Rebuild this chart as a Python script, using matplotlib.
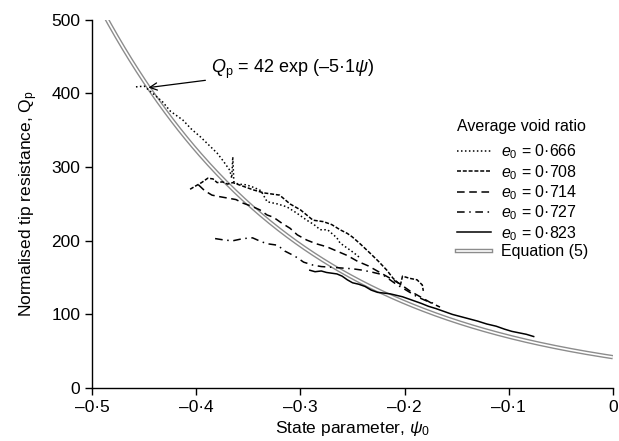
import numpy as np
import matplotlib
matplotlib.use("Agg")
import matplotlib.pyplot as plt
from matplotlib.lines import Line2D
import matplotlib.patheffects as pe

plt.rcParams['font.family'] = ['Liberation Sans', 'DejaVu Sans']
plt.rcParams['mathtext.fontset'] = 'custom'
plt.rcParams['mathtext.rm'] = 'Liberation Sans'
plt.rcParams['mathtext.it'] = 'Liberation Sans:italic'
plt.rcParams['mathtext.sf'] = 'Liberation Sans'

# ---- data ----
psi_666 = [-0.458, -0.450, -0.446, -0.440, -0.432, -0.425, -0.418, -0.413, -0.405, -0.396,
           -0.388, -0.380, -0.374, -0.368, -0.366, -0.365, -0.364, -0.360, -0.352, -0.344,
           -0.338, -0.332, -0.322, -0.313, -0.304, -0.294, -0.287, -0.281, -0.274, -0.265,
           -0.262, -0.255, -0.249, -0.243]
q_666 = [409, 410, 405, 398, 388, 376, 369, 364, 352, 341,
         330, 319, 308, 296, 285, 314, 280, 277, 276, 272,
         268, 253, 250, 246, 238, 228, 222, 215, 215, 204,
         197, 190, 184, 177]

psi_708 = [-0.406, -0.400, -0.395, -0.389, -0.384, -0.380, -0.375, -0.370, -0.365, -0.355,
           -0.345, -0.335, -0.320, -0.310, -0.300, -0.288, -0.278, -0.270, -0.262, -0.255,
           -0.250, -0.242, -0.233, -0.225, -0.217, -0.211, -0.204, -0.202, -0.195, -0.188,
           -0.183, -0.182]
q_708 = [270, 275, 279, 285, 284, 279, 280, 277, 279, 274,
         269, 265, 262, 250, 242, 228, 226, 222, 215, 210,
         205, 195, 183, 172, 160, 149, 140, 152, 149, 147,
         140, 132]

psi_714 = [-0.398, -0.392, -0.385, -0.378, -0.370, -0.362, -0.355, -0.347, -0.339, -0.332,
           -0.326, -0.318, -0.310, -0.303, -0.294, -0.285, -0.275, -0.265, -0.255, -0.245,
           -0.235, -0.225, -0.215, -0.205, -0.195, -0.185, -0.175, -0.166]
q_714 = [276, 268, 262, 260, 258, 256, 251, 247, 242, 235,
         232, 224, 217, 208, 201, 196, 192, 186, 180, 172,
         166, 158, 150, 142, 132, 124, 116, 110]

psi_727 = [-0.382, -0.373, -0.365, -0.355, -0.346, -0.338, -0.332, -0.322, -0.315, -0.308,
           -0.303, -0.297, -0.288, -0.280, -0.270, -0.260, -0.250, -0.240, -0.230, -0.221,
           -0.214, -0.207, -0.202, -0.195, -0.188, -0.180, -0.172]
q_727 = [203, 201, 200, 203, 204, 199, 196, 194, 186, 181,
         177, 171, 167, 165, 164, 163, 162, 160, 157, 154,
         147, 140, 136, 130, 124, 119, 115]

psi_823 = [-0.291, -0.286, -0.280, -0.275, -0.270, -0.265, -0.260, -0.255, -0.250, -0.244,
           -0.238, -0.232, -0.226, -0.220, -0.214, -0.208, -0.202, -0.196, -0.190, -0.184,
           -0.177, -0.170, -0.162, -0.154, -0.146, -0.138, -0.130, -0.121, -0.112, -0.104,
           -0.097, -0.090, -0.083, -0.076]
q_823 = [160, 158, 159, 157, 156, 155, 152, 147, 143, 141,
         138, 133, 130, 129, 128, 126, 124, 121, 118, 115,
         111, 108, 104, 100, 97, 94, 91, 87, 84, 80,
         77, 75, 73, 70]

# Equation (5): Qp = A exp(B psi)
eq_A = 42.0
eq_B = -5.1

series_labels = ['$e_0$ = 0·666', '$e_0$ = 0·708', '$e_0$ = 0·714',
                 '$e_0$ = 0·727', '$e_0$ = 0·823']
x_ticks = [-0.5, -0.4, -0.3, -0.2, -0.1, 0.0]
x_ticklabels = ['–0·5', '–0·4', '–0·3', '–0·2', '–0·1', '0']
y_ticks = [0, 100, 200, 300, 400, 500]
y_ticklabels = ['0', '100', '200', '300', '400', '500']

# ---- figure ----
fig = plt.figure(figsize=(6.19, 4.41), dpi=100)
ax = fig.add_axes([0.149, 0.120, 0.841, 0.835])

double_fx = [pe.Stroke(linewidth=3.2, foreground='#8c8c8c'), pe.Normal()]

psi_eq = np.linspace(-0.5, 0.0, 300)
q_eq = eq_A * np.exp(eq_B * psi_eq)
ax.plot(psi_eq, q_eq, color='white', lw=1.2, solid_capstyle='butt', zorder=2,
        path_effects=double_fx)

styles = [(0, (1, 1.6)), (0, (2.6, 1.2)), (0, (5, 3)), (0, (5, 3, 1, 3)), '-']
data = [(psi_666, q_666), (psi_708, q_708), (psi_714, q_714),
        (psi_727, q_727), (psi_823, q_823)]
handles = []
for (px, qy), ls, lab in zip(data, styles, series_labels):
    ln, = ax.plot(px, qy, color='black', lw=1.1, linestyle=ls, zorder=3, label=lab)
    handles.append(ln)

eq_handle = Line2D([], [], color='white', lw=1.2, path_effects=double_fx)
handles.append(eq_handle)
labels = series_labels + ['Equation (5)']

leg = ax.legend(handles, labels, title='Average void ratio',
                loc='upper left', bbox_to_anchor=(0.68, 0.76),
                frameon=False, fontsize=11.5, title_fontsize=11.5,
                handlelength=2.1, handletextpad=0.6, labelspacing=0.1,
                borderpad=0.2)
leg._legend_box.align = 'left'
leg._legend_box.sep = 6

ax.annotate('$Q_\\mathrm{p}$ = 42 exp (–5·1$\\psi$)', xy=(-0.446, 408),
            xytext=(-0.386, 433), fontsize=13, va='center', ha='left',
            arrowprops=dict(arrowstyle='->', color='black', lw=0.9,
                            shrinkA=2, shrinkB=0))

ax.set_xlim(-0.5, 0.0)
ax.set_ylim(0, 500)
ax.set_xticks(x_ticks)
ax.set_xticklabels(x_ticklabels)
ax.set_yticks(y_ticks)
ax.set_yticklabels(y_ticklabels)
ax.tick_params(direction='out', length=5, width=1, labelsize=12.5, colors='black')
ax.spines['top'].set_visible(False)
ax.spines['right'].set_visible(False)
for s in ('left', 'bottom'):
    ax.spines[s].set_linewidth(1.0)

ax.set_xlabel('State parameter, $\\psi_0$', fontsize=12.5, labelpad=3)
ax.set_ylabel('Normalised tip resistance, Q$_\\mathrm{p}$', fontsize=12.5, labelpad=8)

fig.savefig('out.png', dpi=100)
